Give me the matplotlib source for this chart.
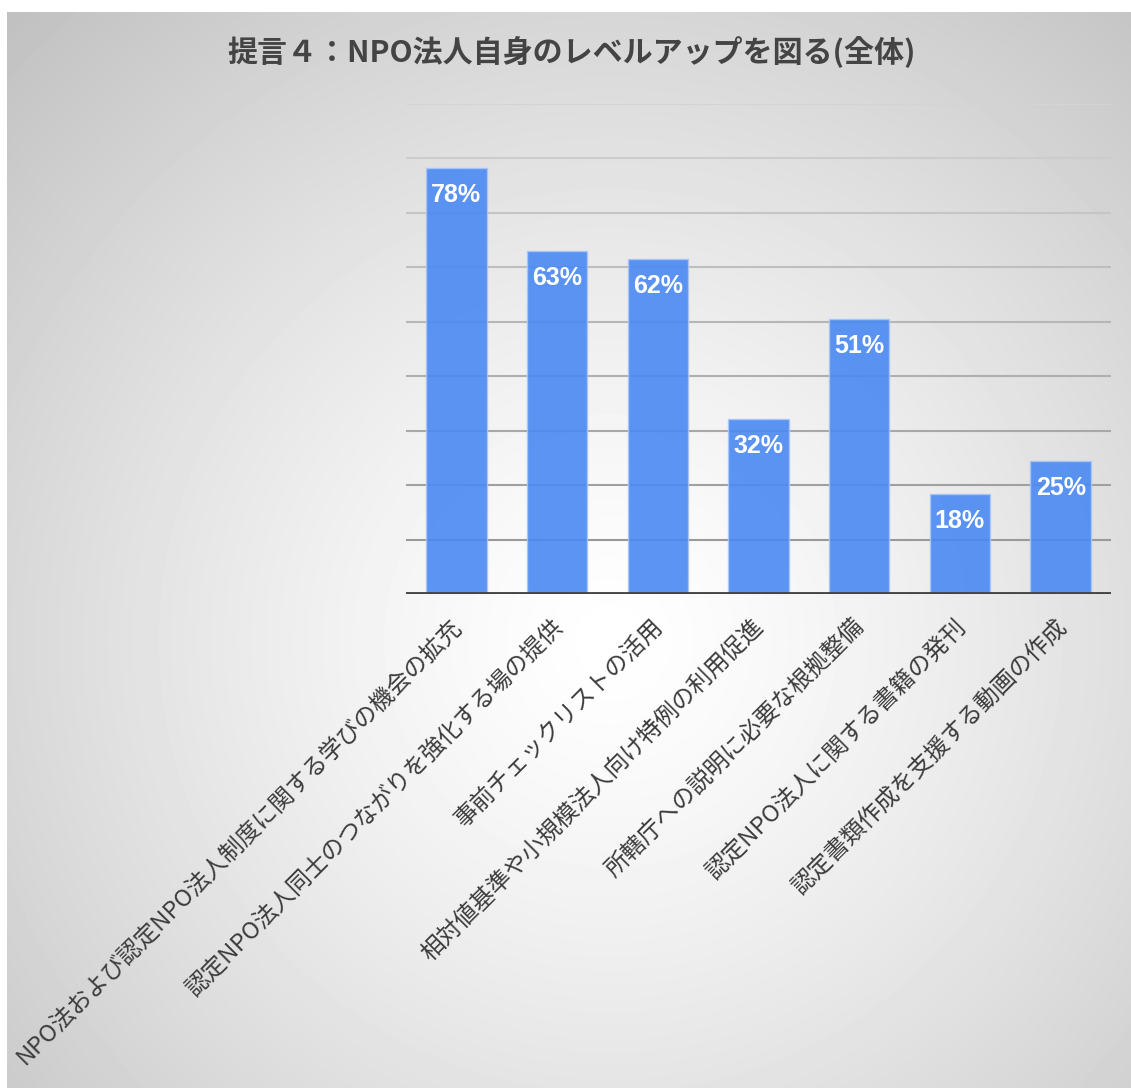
import numpy as np
import matplotlib
matplotlib.use("Agg")
import matplotlib.pyplot as plt

plt.rcParams['font.family'] = ['Noto Sans CJK JP', 'DejaVu Sans']

title = "提言４：NPO法人自身のレベルアップを図る(全体)"
categories = [
    "NPO法および認定NPO法人制度に関する学びの機会の拡充",
    "認定NPO法人同士のつながりを強化する場の提供",
    "事前チェックリストの活用",
    "相対値基準や小規模法人向け特例の利用促進",
    "所轄庁への説明に必要な根拠整備",
    "認定NPO法人に関する書籍の発刊",
    "認定書類作成を支援する動画の作成",
]
values = [78.3, 63.0, 61.6, 32.1, 50.6, 18.3, 24.5]
value_labels = ["78%", "63%", "62%", "32%", "51%", "18%", "25%"]
grid_ticks = [10, 20, 30, 40, 50, 60, 70, 80, 90]

W, H = 1131, 1088
fig = plt.figure(figsize=(W / 100, H / 100), dpi=100)
fig.patch.set_facecolor('white')

# radial grey background
bg = fig.add_axes([7 / W, 0, 1 - 7 / W, (H - 12) / H], zorder=0)
yy, xx = np.mgrid[12:H, 7:W]
d = np.hypot(xx - 610, yy - 640)
shade = 1 - 0.24 * np.clip(d / 850, 0, 1.05) ** 1.3
bg.imshow(shade, cmap='gray', vmin=0, vmax=1, aspect='auto',
          extent=[0, 1, 0, 1], interpolation='bilinear')
bg.axis('off')

ax = fig.add_axes([406 / W, 494 / H, 705 / W, 490 / H], zorder=1)
ax.patch.set_alpha(0)
x = np.arange(len(values))

# gridlines get darker towards the bottom
gcols = np.linspace(0.60, 0.83, len(grid_ticks))
for t, g in zip(grid_ticks, gcols):
    ax.axhline(t, color=(g, g, g), lw=1.5, zorder=1)

ax.bar(x, values, width=0.6, color='#4a89f3', alpha=0.9,
       edgecolor='#a9c6f8', linewidth=1, zorder=2)
ax.axhline(0, color='#444444', lw=3.5, zorder=3)

for xi, v, lab in zip(x, values, value_labels):
    ax.annotate(lab, (xi, v), xytext=(0, -19.5), textcoords='offset points',
                ha='center', va='center', color='white', fontsize=18,
                fontweight='bold', family=['Liberation Sans', 'DejaVu Sans'],
                zorder=4)

ax.set_xlim(-0.5, len(values) - 0.5)
ax.set_ylim(0, 90)
ax.set_yticks([])
ax.set_xticks(x + 0.02)
ax.set_xticklabels(categories, rotation=45, ha='right', va='center',
                   rotation_mode='anchor', fontsize=17, color='#3c3c3c')
ax.tick_params(axis='x', length=0, pad=21)
for s in ax.spines.values():
    s.set_visible(False)

fig.text(572 / W, 1 - 52 / H, title, ha='center', va='center',
         fontsize=21.6, fontweight='bold', color='#444444')

fig.savefig('out.png', dpi=100, facecolor='white')
